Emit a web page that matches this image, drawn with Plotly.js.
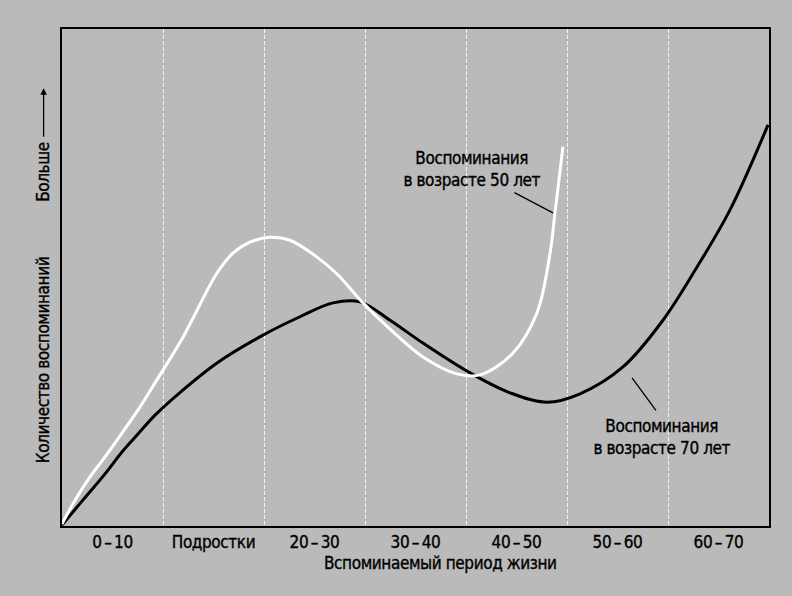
<!DOCTYPE html>
<html>
<head>
<meta charset="utf-8">
<script src="https://cdn.plot.ly/plotly-3.0.1.min.js"></script>
<style>
  html, body { margin: 0; padding: 0; background: #bababa; }
  #chart { width: 792px; height: 596px; }
  #chart svg text { letter-spacing: -0.4px; stroke: #000; stroke-width: 0.35px; }
</style>
</head>
<body>
<div id="chart"></div>
<script>
// Categories (remembered life period)
const categories = ["0\u2009\u2013\u200910", "Подростки", "20\u2009\u2013\u200930", "30\u2009\u2013\u200940", "40\u2009\u2013\u200950", "50\u2009\u2013\u200960", "60\u2009\u2013\u200970"];

// Memories at age 70 (black curve): position along the period axis and relative amount
const age70X = [0, 0.198, 0.426, 0.594, 0.752, 0.921, 1.119, 1.535, 1.990, 2.356, 2.683, 2.950, 3.248, 3.574, 4.040, 4.436, 4.802, 5.129, 5.554, 5.950, 6.287, 6.614, 6.990];
const age70Y = [0.002, 0.050, 0.105, 0.149, 0.185, 0.223, 0.260, 0.328, 0.384, 0.421, 0.449, 0.451, 0.414, 0.368, 0.308, 0.268, 0.249, 0.266, 0.320, 0.414, 0.521, 0.636, 0.807];

// Memories at age 50 (white curve)
const age50X = [0, 0.129, 0.257, 0.426, 0.594, 0.752, 0.921, 1.198, 1.535, 1.693, 1.861, 2.059, 2.257, 2.525, 2.723, 2.970, 3.248, 3.574, 3.911, 4.139, 4.465, 4.703, 4.832, 4.881, 4.960];
const age50Y = [0.004, 0.052, 0.093, 0.139, 0.187, 0.233, 0.288, 0.380, 0.509, 0.549, 0.571, 0.581, 0.575, 0.541, 0.507, 0.451, 0.396, 0.340, 0.306, 0.304, 0.348, 0.429, 0.549, 0.630, 0.763];

const labelFont = "'DejaVu Sans Condensed', 'DejaVu Sans', sans-serif";
const tickPos = categories.map((c, i) => i + 0.5);
const boundaries = categories.slice(1).map((c, i) => i + 1);

const traces = [
  {
    x: age70X, y: age70Y, mode: 'lines', name: 'Воспоминания в возрасте 70 лет',
    line: { color: '#000000', width: 3, shape: 'spline', smoothing: 1 },
    hoverinfo: 'skip'
  },
  {
    x: age50X, y: age50Y, mode: 'lines', name: 'Воспоминания в возрасте 50 лет',
    line: { color: '#ffffff', width: 3, shape: 'spline', smoothing: 1 },
    hoverinfo: 'skip'
  }
];

const layout = {
  width: 792, height: 596,
  margin: { l: 62, r: 23, t: 29, b: 70 },
  paper_bgcolor: '#bababa',
  plot_bgcolor: '#bababa',
  showlegend: false,
  font: { family: labelFont, size: 17, color: '#000' },
  xaxis: {
    range: [0, 7], showgrid: false, zeroline: false,
    tickmode: 'array', tickvals: tickPos, ticktext: categories,
    ticks: '', showline: true, linecolor: '#000', linewidth: 2, mirror: true,
    tickfont: { family: labelFont, size: 17, color: '#000' },
    minor: { tickmode: 'array', tickvals: boundaries, showgrid: true, gridcolor: '#f4f4f4', gridwidth: 1, griddash: '4px,2px', ticks: '' },
    fixedrange: true
  },
  yaxis: {
    range: [0, 1], showgrid: false, zeroline: false, showticklabels: false,
    ticks: '', showline: true, linecolor: '#000', linewidth: 2, mirror: true,
    fixedrange: true
  },
  annotations: [
    { xref: 'paper', yref: 'paper', x: 0.535, y: -0.0744, xanchor: 'center', yanchor: 'middle', showarrow: false,
      text: 'Вспоминаемый период жизни', font: { family: labelFont, size: 17, color: '#000' } },
    { xref: 'paper', yref: 'paper', x: -0.027, y: 0.334, xanchor: 'center', yanchor: 'middle', textangle: -90, showarrow: false,
      text: 'Количество воспоминаний', font: { family: labelFont, size: 17, color: '#000' } },
    { xref: 'paper', yref: 'paper', x: -0.027, y: 0.712, xanchor: 'center', yanchor: 'middle', textangle: -90, showarrow: false,
      text: 'Больше', font: { family: labelFont, size: 17, color: '#000' } },
    { xref: 'paper', yref: 'paper', x: -0.026, y: 0.881, text: '', showarrow: true,
      ax: 0, ay: 50, arrowhead: 2, arrowsize: 1, arrowwidth: 1.3, arrowcolor: '#000', standoff: 0 },
    { xref: 'x', yref: 'y', x: 4.06, y: 0.718, xanchor: 'center', yanchor: 'middle', showarrow: false,
      text: 'Воспоминания<br>в возрасте 50 лет', font: { family: labelFont, size: 17, color: '#000' } },
    { xref: 'x', yref: 'y', x: 4.861, y: 0.63, text: '', showarrow: true,
      ax: -40, ay: -21, arrowhead: 0, arrowwidth: 1.3, arrowcolor: '#000', standoff: 0, startstandoff: 0 },
    { xref: 'x', yref: 'y', x: 5.94, y: 0.179, xanchor: 'center', yanchor: 'middle', showarrow: false,
      text: 'Воспоминания<br>в возрасте 70 лет', font: { family: labelFont, size: 17, color: '#000' } },
    { xref: 'x', yref: 'y', x: 5.644, y: 0.298, text: '', showarrow: true,
      ax: 25, ay: 34, arrowhead: 0, arrowwidth: 1.3, arrowcolor: '#000', standoff: 0, startstandoff: 0 }
  ]
};

Plotly.newPlot('chart', traces, layout, { staticPlot: true, displayModeBar: false });
</script>
</body>
</html>
